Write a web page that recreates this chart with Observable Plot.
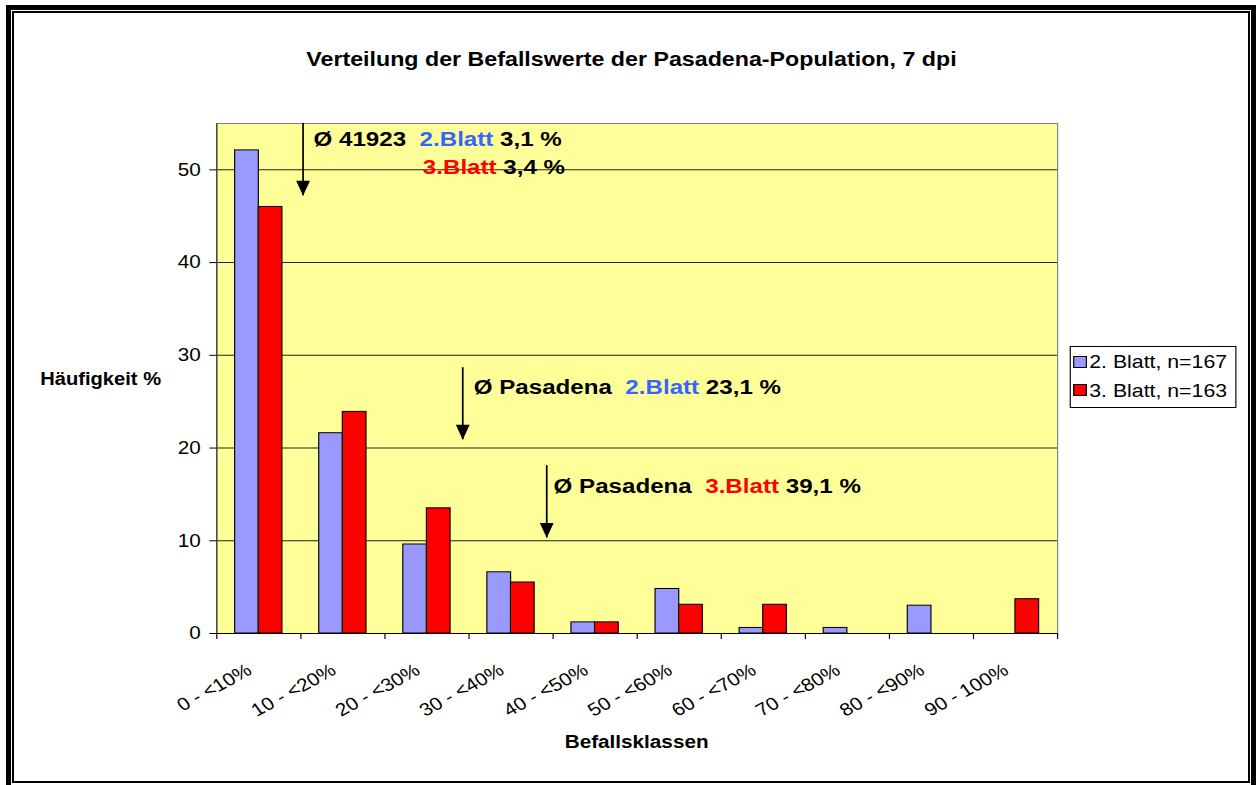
<!DOCTYPE html>
<html>
<head>
<meta charset="utf-8">
<script src="https://cdn.jsdelivr.net/npm/d3@7"></script>
<script src="https://cdn.jsdelivr.net/npm/@observablehq/plot@0.6"></script>
<style>
  body { margin: 0; background: #fff; font-family: "Liberation Sans", Arial, sans-serif; }
  #page { position: relative; width: 1256px; height: 785px; overflow: hidden; background: #fff; }
  #outer { position: absolute; left: 6px; top: 5px; width: 1250px; height: 790px; border: 5px solid #000; box-sizing: border-box; }
  #inner { position: absolute; left: 12px; top: 11px; width: 1238px; height: 772px; border: 2px solid #000; box-sizing: border-box; }
  #chart { position: absolute; left: 0; top: 0; width: 1092px; height: 785px; transform: scaleX(1.1502); transform-origin: 0 0; }
  #plot { position: absolute; left: 0; top: 0; }
  #title { position: absolute; left: 0; top: 49px; width: 1092px; padding-left: 6px; box-sizing: border-box; text-align: center;
           font-weight: bold; font-size: 20.2px; line-height: 20px; color: #000; white-space: nowrap; }
  #ylabel { position: absolute; left: 35px; top: 370.5px; font-weight: bold; font-size: 17.5px; line-height: 17px; white-space: nowrap; }
  #xlabel { position: absolute; left: 353.5px; width: 400px; top: 733px; text-align: center; font-weight: bold; font-size: 18px; line-height: 18px; }
  #legend { position: absolute; left: 930.4px; top: 346px; width: 144.4px; height: 62px; border: 1px solid #000; box-sizing: border-box; background: #fff; }
  .sw { position: absolute; left: 1.5px; width: 12px; height: 12px; border: 1px solid #000; box-sizing: border-box; }
  .lt { position: absolute; left: 15.6px; font-size: 18.5px; line-height: 20px; white-space: nowrap; color: #000; }
</style>
</head>
<body>
<div id="page">
  <div id="outer"></div>
  <div id="inner"></div>
  <div id="chart">
    <div id="plot"></div>
    <div id="title">Verteilung der Befallswerte der Pasadena-Population, 7 dpi</div>
    <div id="ylabel">Häufigkeit %</div>
    <div id="xlabel">Befallsklassen</div>
    <div id="legend"></div>
  </div>
</div>
<script>
// ---- data ----
const classLabels = ["0 - <10%", "10 - <20%", "20 - <30%", "30 - <40%", "40 - <50%",
                     "50 - <60%", "60 - <70%", "70 - <80%", "80 - <90%", "90 - 100%"];
const classLower = [0, 10, 20, 30, 40, 50, 60, 70, 80, 90];
const classUpper = [10, 20, 30, 40, 50, 60, 70, 80, 90, 100];
const blatt2 = [52.1, 21.6, 9.6, 6.6, 1.2, 4.8, 0.6, 0.6, 3.0, 0];
const blatt3 = [46.0, 23.9, 13.5, 5.5, 1.2, 3.1, 3.1, 0, 0, 3.7];
const seriesNames = ["2. Blatt, n=167", "3. Blatt, n=163"];
const seriesColors = ["#9999FF", "#FF0000"];
const yTicks = [0, 10, 20, 30, 40, 50];
const yMax = 55;

// annotations (in data units: x = Befallsklasse %, y = Häufigkeit %)
const arrowX = [10.26, 29.25, 39.24];
const arrowTop = [55, 28.66, 18.1];
const arrowTip = [47.2, 20.9, 10.31];
const noteX = [11.5, 24.5, 30.55, 40.05];
const noteY = [53.28, 50.29, 26.52, 15.92];
const noteSegments = [
  [["Ø 41923  ", "#000"], ["2.Blatt", "#3366FF"], [" 3,1 %", "#000"]],
  [["3.Blatt", "#FF0000"], [" 3,4 %", "#000"]],
  [["Ø Pasadena  ", "#000"], ["2.Blatt", "#3366FF"], [" 23,1 %", "#000"]],
  [["Ø Pasadena  ", "#000"], ["3.Blatt", "#FF0000"], [" 39,1 %", "#000"]]
];

// ---- derived tables ----
const rows = classLabels.map((c, i) => ({c, lo: classLower[i], hi: classUpper[i], b2: blatt2[i], b3: blatt3[i]}));
const centers = rows.map(d => (d.lo + d.hi) / 2);
const labelByCenter = new Map(centers.map((c, i) => [c, classLabels[i]]));
const bounds = Array.from(new Set(classLower.concat(classUpper)));
const arrows = arrowX.map((x, i) => ({x, y1: arrowTop[i], y2: arrowTip[i]}));
const notes = noteX.map((x, i) => ({x, y: noteY[i], i}));

const headSymbol = {
  draw(ctx) { ctx.moveTo(-6, -15); ctx.lineTo(6, -15); ctx.lineTo(0, 0); ctx.closePath(); }
};

const svg = Plot.plot({
  width: 1092,
  height: 785,
  marginLeft: 188,
  marginRight: 173,
  marginTop: 123,
  marginBottom: 152,
  style: {fontFamily: "'Liberation Sans', Arial, sans-serif", fontSize: "18px", color: "#000", background: "transparent", overflow: "visible"},
  x: {type: "linear", domain: [0, 100]},
  y: {domain: [0, yMax]},
  marks: [
    Plot.frame({fill: "#FFFF99", stroke: null}),
    Plot.gridY(yTicks.filter(d => d > 0), {stroke: "#222", strokeOpacity: 1, strokeWidth: 1}),
    Plot.rectY(rows.filter(d => d.b2 > 0), {x1: "lo", x2: "hi", y1: 0, y2: "b2", fill: seriesColors[0], stroke: "#000", strokeWidth: 1, insetLeft: 16, insetRight: 36.5}),
    Plot.rectY(rows.filter(d => d.b3 > 0), {x1: "lo", x2: "hi", y1: 0, y2: "b3", fill: seriesColors[1], stroke: "#000", strokeWidth: 1, insetLeft: 36.5, insetRight: 16}),
    Plot.frame({stroke: "#808080", fill: "none"}),
    Plot.ruleX([0], {stroke: "#333"}),
    Plot.ruleY([0], {stroke: "#000"}),
    Plot.axisY({ticks: yTicks, tickSize: 6, tickPadding: 8, fontSize: 18, label: null, stroke: "#000", fill: "#000"}),
    Plot.axisX({ticks: bounds, tickSize: 6, tickFormat: () => "", label: null, stroke: "#000"}),
    Plot.axisX({ticks: centers, tickSize: 0, tickPadding: 35, tickRotate: -32, dx: -8, fontSize: 18,
                tickFormat: d => labelByCenter.get(d), label: null, fill: "#000"}),
    Plot.ruleX(arrows, {x: "x", y1: "y1", y2: "y2", stroke: "#000", strokeWidth: 1.5}),
    Plot.dot(arrows, {x: "x", y: "y2", symbol: headSymbol, fill: "#000", stroke: "none"}),
    Plot.text(notes, {x: "x", y: "y", text: d => noteSegments[d.i].map(s => s[0]).join(""),
                      textAnchor: "start", fontWeight: "bold", fontSize: 21, fill: "#000", ariaLabel: "notes"})
  ]
});
document.getElementById("plot").appendChild(svg);

// colour the annotation segments
let noteTexts = d3.select(svg).selectAll('g[aria-label="notes"] text');
if (noteTexts.empty()) noteTexts = d3.select(svg).selectAll('g[aria-label="text"] text');
noteTexts.each(function () {
  const idx = d3.select(this).datum();
  const segs = noteSegments[notes[idx].i];
  const el = d3.select(this);
  el.text(null).attr("xml:space", "preserve").style("white-space", "pre");
  segs.forEach(([t, c]) => el.append("tspan").attr("fill", c).text(t));
});

// legend
const legend = d3.select("#legend");
const swTops = [9, 37];
const txTops = [5.2, 33.6];
seriesNames.forEach((name, i) => {
  legend.append("div").attr("class", "sw").style("top", swTops[i] + "px").style("background", seriesColors[i]);
  legend.append("div").attr("class", "lt").style("top", txTops[i] + "px").text(name);
});
</script>
</body>
</html>
